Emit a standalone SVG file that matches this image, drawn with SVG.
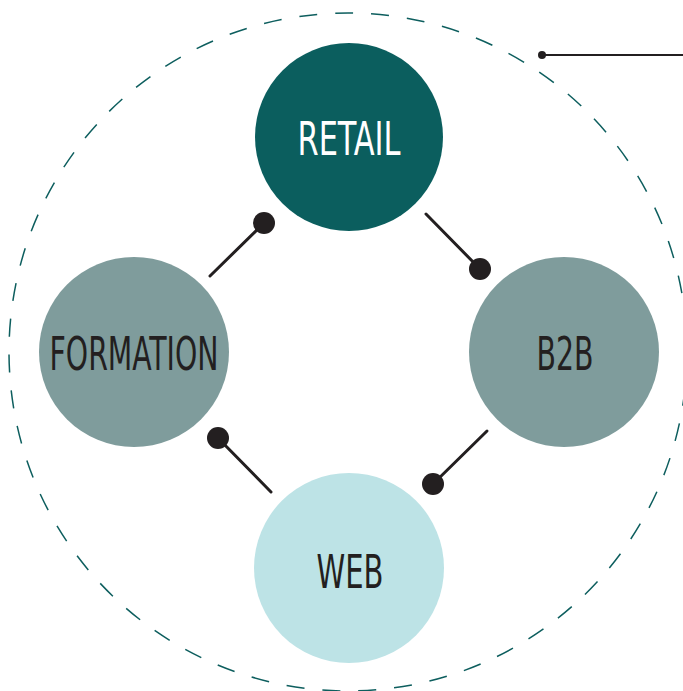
<svg xmlns="http://www.w3.org/2000/svg" width="683" height="691" viewBox="0 0 683 691">
<style>
.lbl{font-family:"DejaVu Sans Condensed","DejaVu Sans","Liberation Sans",sans-serif;font-stretch:condensed;font-size:47px;text-anchor:middle;fill:#231f20}
.conn line{stroke:#231f20;stroke-width:3;stroke-linecap:round}
.conn circle{fill:#231f20}
</style>
<rect width="683" height="691" fill="#ffffff"/>
<circle cx="348" cy="352" r="339" fill="none" stroke="#0d5e5e" stroke-width="1.5" stroke-dasharray="18 18"/>
<g class="conn" id="connectors">
<line x1="210" y1="276" x2="264" y2="223"/><circle cx="264" cy="223" r="11"/>
<line x1="426" y1="214" x2="480" y2="269"/><circle cx="480" cy="269" r="11"/>
<line x1="271" y1="492" x2="218" y2="438"/><circle cx="218" cy="438" r="11"/>
<line x1="487" y1="431" x2="433" y2="484"/><circle cx="433" cy="484" r="11"/>
<line x1="542" y1="55" x2="683" y2="55" style="stroke-width:2"/><circle cx="542" cy="55" r="4"/>
</g>
<g id="retail"><circle cx="349" cy="137" r="94" fill="#0b5e5e"/><text class="lbl" x="349" y="155" textLength="103" lengthAdjust="spacingAndGlyphs" style="fill:#ffffff">RETAIL</text></g>
<g id="formation"><circle cx="134" cy="352" r="95" fill="#7f9c9c"/><text class="lbl" x="134" y="370" textLength="169" lengthAdjust="spacingAndGlyphs">FORMATION</text></g>
<g id="b2b"><circle cx="564" cy="352" r="95" fill="#7f9c9c"/><text class="lbl" x="565" y="370" textLength="57" lengthAdjust="spacingAndGlyphs">B2B</text></g>
<g id="web"><circle cx="349" cy="568" r="95" fill="#bde3e6"/><text class="lbl" x="350" y="588" textLength="67" lengthAdjust="spacingAndGlyphs">WEB</text></g>
</svg>
